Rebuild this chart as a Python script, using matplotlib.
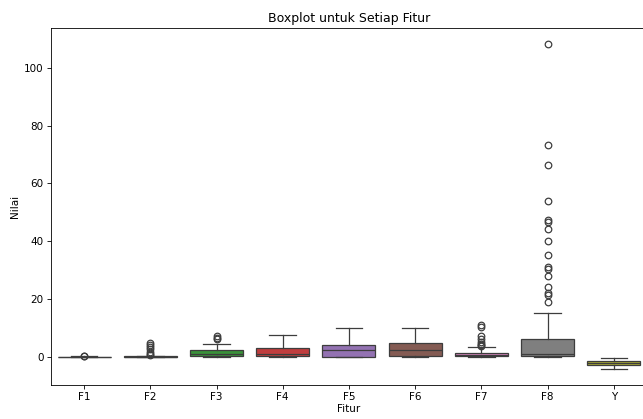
import colorsys
import matplotlib
matplotlib.use("Agg")
import matplotlib.pyplot as plt
import matplotlib.colors as mcolors

# statistik boxplot yang dibaca dari gambar
fitur = ["F1", "F2", "F3", "F4", "F5", "F6", "F7", "F8", "Y"]
whis_low = [0.0, 0.0, 0.0, 0.0, 0.0, 0.0, 0.0, 0.0, -4.2]
q1 = [0.0, 0.0, 0.1, 0.1, 0.0, 0.2, 0.1, 0.1, -3.0]
median = [0.02, 0.05, 0.8, 0.9, 2.3, 2.4, 0.7, 0.8, -2.2]
q3 = [0.05, 0.15, 2.2, 2.9, 4.0, 4.8, 1.4, 6.0, -1.5]
whis_high = [0.1, 0.3, 4.4, 7.4, 9.9, 9.9, 3.3, 15.0, -0.5]
fliers = [
    [0.2, 0.3],
    [0.5, 1.0, 1.8, 2.5, 3.2, 4.0, 4.8],
    [6.2, 6.6, 7.0],
    [],
    [],
    [],
    [3.6, 4.0, 4.5, 5.2, 6.0, 7.0, 10.3, 11.0],
    [19.0, 21.3, 22.1, 24.3, 28.1, 30.5, 31.1, 35.1, 40.2, 44.3,
     46.8, 47.5, 54.0, 66.3, 73.2, 108.4],
    [],
]


def desaturate(c, prop=0.75):
    h, l, s = colorsys.rgb_to_hls(*mcolors.to_rgb(c))
    return colorsys.hls_to_rgb(h, l, s * prop)


palette = [desaturate(c) for c in plt.get_cmap("tab10").colors[:len(fitur)]]
lum = min(colorsys.rgb_to_hls(*c)[1] for c in palette) * 0.6
line_color = (lum, lum, lum)

stats = []
for i, name in enumerate(fitur):
    stats.append(dict(label=name, whislo=whis_low[i], q1=q1[i], med=median[i],
                      q3=q3[i], whishi=whis_high[i], fliers=fliers[i]))

dpi = 75
fig = plt.figure(figsize=(643 / dpi, 419 / dpi), dpi=dpi)
ax = fig.add_axes([0.0793, 0.0811, 0.9267, 0.852])

lw = 1.2
bp = ax.bxp(stats, positions=range(len(fitur)), widths=0.8, patch_artist=True,
            boxprops=dict(edgecolor=line_color, linewidth=lw),
            medianprops=dict(color=line_color, linewidth=lw),
            whiskerprops=dict(color=line_color, linewidth=lw),
            capprops=dict(color=line_color, linewidth=lw),
            flierprops=dict(marker="o", markerfacecolor="none",
                            markeredgecolor=line_color, markersize=6.3,
                            markeredgewidth=lw))
for box, col in zip(bp["boxes"], palette):
    box.set_facecolor(col)

ax.set_xlim(-0.5, len(fitur) - 0.5)
ax.set_ylim(-9.8, 113.8)
ax.set_xticks(range(len(fitur)))
ax.set_xticklabels(fitur)
ax.set_title("Boxplot untuk Setiap Fitur")
ax.set_xlabel("Fitur", labelpad=2)
ax.set_ylabel("Nilai")

fig.savefig("out.png", dpi=dpi)
